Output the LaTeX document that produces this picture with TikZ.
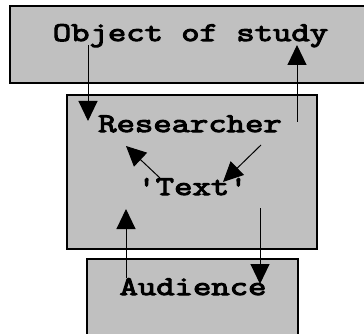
\documentclass[tikz,border=0pt]{standalone}
\usepackage{fontspec}
\newfontfamily\courfont[FakeStretch=1.32, FakeBold=4]{Latin Modern Mono}
\usetikzlibrary{arrows.meta}
\definecolor{boxgray}{HTML}{C0C0C0}
\tikzset{
  panel/.style={draw=black, fill=boxgray, line width=1.5pt},
  lbl/.style={font=\courfont\fontsize{27}{27}\selectfont, anchor=base, inner sep=0pt},
  flow/.style={line width=1pt, -{Triangle[length=20pt,width=19pt]}}
}
\begin{document}
\begin{tikzpicture}[x=1pt,y=-1pt]
\useasboundingbox (0,0) rectangle (364,334);
\clip (0,0) rectangle (364,334);
% boxes
\path[panel] (10,6) rectangle (372,83);
\path[panel] (67,95) rectangle (317,249);
\path[panel] (87,259) rectangle (298,342);
% labels
\node[lbl] (obj) at (190.5,41) {Object of study};
\node[lbl] (res) at (190,132) {Researcher};
\node[lbl] (txt) at (192.5,195) {'Text'};
\node[lbl] (aud) at (193,295) {Audience};
% connector end points
\coordinate (a1s) at (88,45);
\coordinate (a1e) at (88,121);
\coordinate (a2s) at (297,122);
\coordinate (a2e) at (297,45);
\coordinate (a3s) at (160,178);
\coordinate (a3e) at (126,146);
\coordinate (a4s) at (261,145);
\coordinate (a4e) at (223,182);
\coordinate (a5s) at (126,278);
\coordinate (a5e) at (126,209);
\coordinate (a6s) at (260,208);
\coordinate (a6e) at (260,284);
% connectors
\draw[flow] (a1s) -- (a1e);
\draw[flow] (a2s) -- (a2e);
\draw[flow] (a3s) -- (a3e);
\draw[flow] (a4s) -- (a4e);
\draw[flow] (a5s) -- (a5e);
\draw[flow] (a6s) -- (a6e);
\end{tikzpicture}
\end{document}
